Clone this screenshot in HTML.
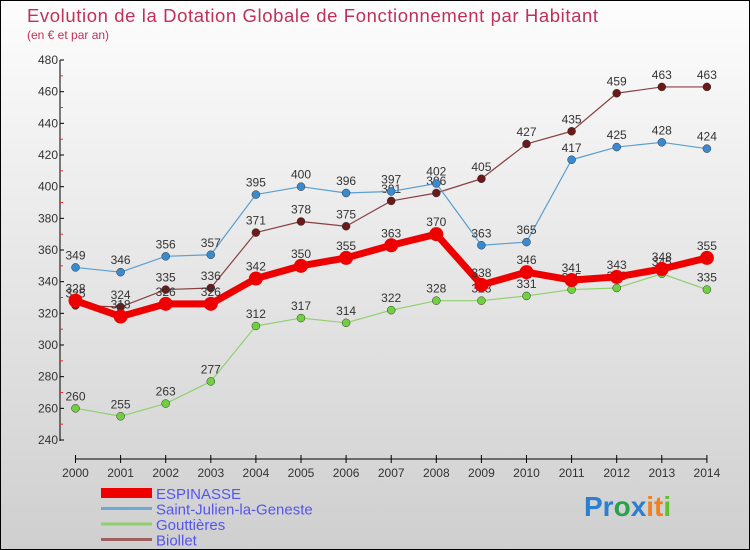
<!DOCTYPE html>
<html><head><meta charset="utf-8"><style>
body{margin:0;}
#c{position:relative;width:748px;height:548px;border:1px solid #000;background:linear-gradient(#fdfdfd,#cfcfcf);font-family:"Liberation Sans",sans-serif;overflow:hidden}
svg text{font-family:"Liberation Sans",sans-serif}
</style></head><body>
<div id="c">
<svg id="s" width="748" height="548">
<text x="26" y="21" font-size="18.5" fill="#c0305a" textLength="571">Evolution de la Dotation Globale de Fonctionnement par Habitant</text>
<text x="26" y="38" font-size="12" fill="#c0305a">(en € et par an)</text>
<g id="ax"></g><g id="pl"></g><g id="lg"></g>
<text x="583" y="515" font-size="28" font-weight="bold"><tspan fill="#2a7fd0">Pr</tspan><tspan fill="#2aa050">o</tspan><tspan fill="#2a7fd0">x</tspan><tspan fill="#f08020">it</tspan><tspan fill="#60c030">i</tspan></text>
</svg></div>
<script>
const years=[2000,2001,2002,2003,2004,2005,2006,2007,2008,2009,2010,2011,2012,2013,2014];
const yTicks=[240,260,280,300,320,340,360,380,400,420,440,460,480];
const espinasse=[328,318,326,326,342,350,355,363,370,338,346,341,343,348,355];
const saintJulien=[349,346,356,357,395,400,396,397,402,363,365,417,425,428,424];
const gouttieres=[260,255,263,277,312,317,314,322,328,328,331,335,336,345,335];
const biollet=[325,324,335,336,371,378,375,391,396,405,427,435,459,463,463];
const names=["ESPINASSE","Saint-Julien-la-Geneste","Gouttières","Biollet"];
const NS="http://www.w3.org/2000/svg";
const X=i=>74.5+i*45.1, Y=v=>439-(v-240)*(380/240);
function el(p,t,a){const e=document.createElementNS(NS,t);for(const k in a)e.setAttribute(k,a[k]);p.appendChild(e);return e;}
const ax=document.getElementById('ax'),pl=document.getElementById('pl'),lg=document.getElementById('lg');
let e=el(ax,'line',{x1:59,y1:59,x2:59,y2:440,stroke:'#000'});

e=el(ax,'line',{x1:74,y1:458,x2:706,y2:458,stroke:'#000'});

yTicks.forEach((v,i)=>{
 el(ax,'line',{x1:59,y1:Y(v),x2:63,y2:Y(v),stroke:'#000'});
 if(i<yTicks.length-1) el(ax,'line',{x1:59,y1:Y(v+10),x2:62,y2:Y(v+10),stroke:'#e03030'});
 const t=el(ax,'text',{x:57,y:Y(v)+4,'font-size':12,fill:'#333','text-anchor':'end'});t.textContent=v;
 
});
years.forEach((y,i)=>{
 el(ax,'line',{x1:X(i),y1:454,x2:X(i),y2:462,stroke:'#000'});
 const t=el(ax,'text',{x:X(i),y:476,'font-size':12,fill:'#333','text-anchor':'middle'});t.textContent=y;
 
});
const series=[[biollet,'#6a1a1a','#8a4040',1.2,4,'biollet'],[saintJulien,'#3a8ad0','#5a9fd0',1.2,4,'saint-julien'],[gouttieres,'#70d040','#90d070',1.2,4,'gouttieres'],[espinasse,'#ee0000','#ee0000',7,7,'espinasse']];
series.forEach(([d,c,lc,w,r,n])=>{
 const g=el(pl,'g',{});
 
 el(g,'polyline',{points:d.map((v,i)=>X(i)+','+Y(v)).join(' '),fill:'none',stroke:lc,'stroke-width':w,'stroke-linejoin':'round'});
 d.forEach((v,i)=>{
  const p=el(g,'circle',{cx:X(i),cy:Y(v),r:r,fill:c,stroke:w>2?'none':'#333','stroke-width':0.5});
  
  const t=el(g,'text',{x:X(i),y:Y(v)-8,'font-size':12,fill:'#333','text-anchor':'middle'});t.textContent=v;
  
 });
});
const lc=['#ee0000','#6aa8d8','#90d070','#a06060'],lw=[10,3,3,3];
names.forEach((n,i)=>{
 const y=492+i*15.5;
 el(lg,'line',{x1:100,y1:y,x2:151,y2:y,stroke:lc[i],'stroke-width':lw[i]});
 const t=el(lg,'text',{x:155,y:y+6,'font-size':15,fill:'#5555ee'});t.textContent=n;
 
});
</script>
</body></html>
